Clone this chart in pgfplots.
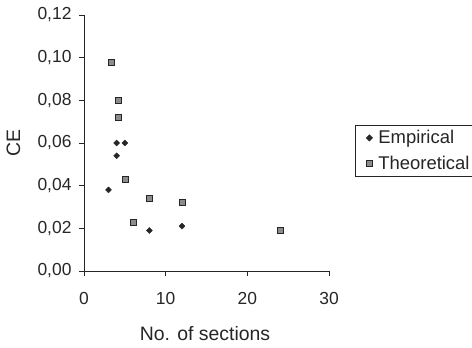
\documentclass[border=0pt]{standalone}
\usepackage{fontspec}
\setmainfont{Liberation Sans}
\usepackage{pgfplots}
\pgfplotsset{compat=1.18}
\begin{document}
\begin{tikzpicture}[x=1bp,y=1bp]
\useasboundingbox (0,0) rectangle (472,347);
\begin{axis}[
  at={(84bp,76bp)}, anchor=south west,
  scale only axis, width=245bp, height=256bp,
  xmin=0, xmax=30, ymin=0, ymax=0.12,
  axis lines*=left,
  axis line style={black!85, line width=0.8pt},
  tick style={black!85, line width=0.7pt},
  tick align=outside, major tick length=5bp,
  xtick={0,10,20,30}, ytick={0,0.02,0.04,0.06,0.08,0.1,0.12},
  scaled y ticks=false,
  /pgf/number format/assume math mode=true,
  yticklabel style={/pgf/number format/fixed, /pgf/number format/fixed zerofill, /pgf/number format/precision=2, /pgf/number format/use comma, xshift=-4bp},
  ticklabel style={font=\fontsize{17.5}{20}\selectfont, text=black!85},
  xticklabel style={yshift=-13bp},
  xlabel={No. of sections},
  ylabel={CE},
  label style={font=\fontsize{19.5}{22}\selectfont, text=black!85},
  xlabel style={at={(axis description cs:0.494,-0.246)}, anchor=center},
  ylabel style={at={(axis description cs:-0.288,0.5)}, anchor=center},
  legend style={at={(1.106,0.367)}, anchor=south west, draw=black!85, line width=0.8pt,
    font=\fontsize{18.5}{21}\selectfont, text=black!85, inner xsep=5bp, inner ysep=3.5bp,
    row sep=7bp, cells={anchor=west}},
  legend cell align=left,
  legend image code/.code={\path[draw=none,fill=none] (0bp,0bp) -- (16bp,0bp);
    \draw[#1] plot[only marks] coordinates {(9bp,0bp)};},
  clip=false,
]
\addplot[only marks, mark=square*, mark size=2.1, mark options={rotate=45, fill=black!85, draw=black!85}]
  coordinates {(3,0.038) (4,0.060) (4,0.054) (5,0.060) (8,0.019) (12,0.021)};
\addlegendentry{Empirical}
\addplot[only marks, mark=square*, mark size=3, mark options={fill=black!45, draw=black!85, line width=0.6pt}]
  coordinates {(3.4,0.098) (4.2,0.080) (4.2,0.072) (5.1,0.043) (6,0.023) (8,0.034) (12,0.032) (24,0.019)};
\addlegendentry{Theoretical}
\end{axis}
\end{tikzpicture}
\end{document}
